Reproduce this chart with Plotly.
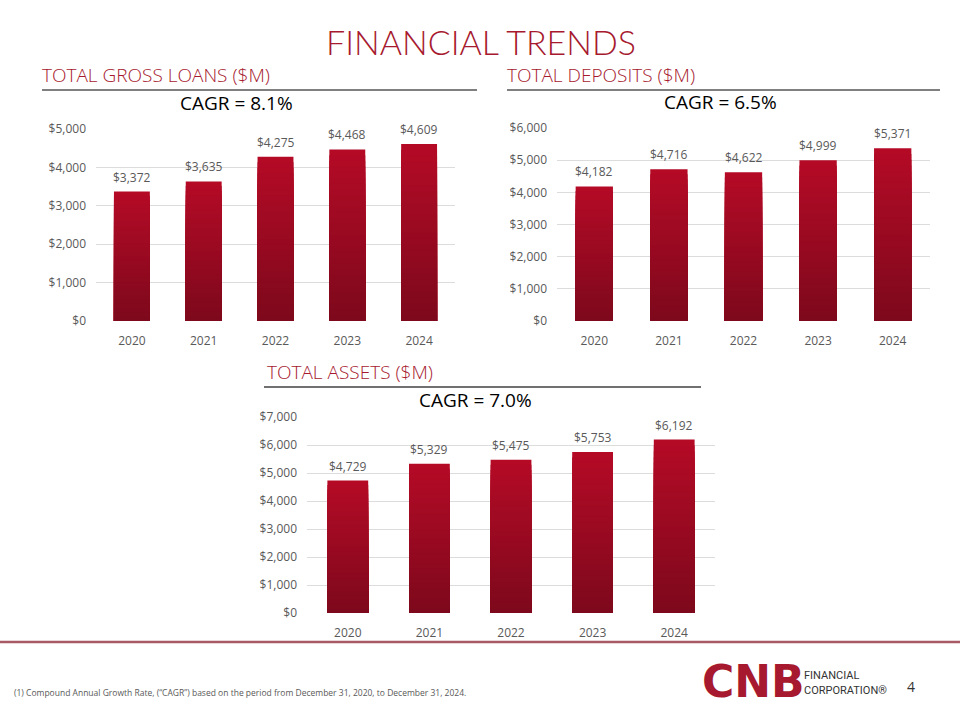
import plotly.graph_objects as go

# data
years = ["2020", "2021", "2022", "2023", "2024"]
loans = [3372, 3635, 4275, 4468, 4609]
deposits = [4182, 4716, 4622, 4999, 5371]
assets = [4729, 5329, 5475, 5753, 6192]

loans_cagr = "CAGR = 8.1%"
deposits_cagr = "CAGR = 6.5%"
assets_cagr = "CAGR = 7.0%"

W, H = 960, 720
RED = "#a6192e"
GRAY = "#595959"
FONT = "Open Sans"

TOP = (180, 10, 38)
BOTTOM = (126, 9, 28)
N_LAYERS = 30


def px(x):
    return x / W


def py(y):
    return 1 - y / H


def shade(i):
    t = i / (N_LAYERS - 1)
    r, g, b = (round(a + (c - a) * t) for a, c in zip(TOP, BOTTOM))
    return f"rgb({r},{g},{b})"


fig = go.Figure()

charts = [
    (loans, "x", "y"),
    (deposits, "x2", "y2"),
    (assets, "x3", "y3"),
]

# stacked-over layers fake the top-to-bottom gradient of the bars
for values, xa, ya in charts:
    for i in range(N_LAYERS):
        frac = 1 - i / N_LAYERS
        fig.add_trace(go.Bar(
            x=years, y=[v * frac for v in values],
            xaxis=xa, yaxis=ya,
            marker=dict(color=shade(i), line=dict(width=0)),
            hoverinfo="skip",
            showlegend=False,
        ))
    # value labels above each bar (x is the category's index)
    for k, v in enumerate(values):
        fig.add_annotation(x=k, y=v, xref=xa, yref=ya, text=f"${v:,}",
                           showarrow=False, yanchor="bottom", yshift=4,
                           font=dict(family=FONT, size=12, color=GRAY))

xcommon = dict(type="category", range=[-0.5, len(years) - 0.5],
               showgrid=False, zeroline=False, showline=False,
               ticks="", automargin=False, ticklabelstandoff=11,
               tickfont=dict(family=FONT, size=12, color=GRAY))
ycommon = dict(showgrid=True, gridcolor="#dcdcdc", gridwidth=1,
               zeroline=False, showline=False, ticks="", dtick=1000,
               automargin=False,
               tickprefix="$", tickformat=",", ticklabelstandoff=9,
               tickfont=dict(family=FONT, size=12, color=GRAY))

fig.update_layout(
    width=W, height=H, autosize=False,
    margin=dict(l=0, r=0, t=0, b=0, pad=0),
    paper_bgcolor="white", plot_bgcolor="white",
    barmode="overlay", bargap=0.5,
    font=dict(family=FONT),
    xaxis=dict(domain=[px(96), px(455)], anchor="y", **xcommon),
    yaxis=dict(domain=[py(321), py(129)], anchor="x", range=[0, 5000], **ycommon),
    xaxis2=dict(domain=[px(557), px(930)], anchor="y2", **xcommon),
    yaxis2=dict(domain=[py(321), py(128)], anchor="x2", range=[0, 6000], **ycommon),
    xaxis3=dict(domain=[px(307), px(715)], anchor="y3", **xcommon),
    yaxis3=dict(domain=[py(613), py(417)], anchor="x3", range=[0, 7000], **ycommon),
)

# header lines and the bottom rule
lines = [
    (42, 477, 90, "#7f7f7f", 2),
    (507, 940, 90, "#7f7f7f", 2),
    (264, 701, 387, "#404040", 1.5),
    (0, 960, 642, "#a65a66", 2.5),
]
for x0, x1, y, c, w in lines:
    fig.add_shape(type="line", xref="paper", yref="paper",
                  x0=px(x0), x1=px(x1), y0=py(y), y1=py(y),
                  line=dict(color=c, width=w))


def note(text, x, y, size, color, xanchor="center", family=FONT, weight=None):
    fig.add_annotation(text=text, x=px(x), y=py(y), xref="paper", yref="paper",
                       xanchor=xanchor, yanchor="middle", showarrow=False,
                       font=dict(family=family, size=size, color=color, weight=weight))


note("FINANCIAL TRENDS", 481, 41, 34, RED, family="Lato", weight=300)
note("TOTAL GROSS LOANS ($M)", 40, 75, 19, RED, xanchor="left", weight=300)
note("TOTAL DEPOSITS ($M)", 505, 75, 19, RED, xanchor="left", weight=300)
note("TOTAL ASSETS ($M)", 265, 372, 19, RED, xanchor="left", weight=300)
note(loans_cagr, 236, 103, 19, "black")
note(deposits_cagr, 720, 102, 19, "black")
note(assets_cagr, 475, 400, 19, "black")

note("(1) Compound Annual Growth Rate, (“CAGR”) based on the period from December 31, 2020, to December 31, 2024.",
     12, 692, 8.5, GRAY, xanchor="left")

# logo and page number
note("CNB", 700, 681, 44, RED, xanchor="left", family="DejaVu Sans", weight="bold")
note("FINANCIAL", 802, 675, 11, "#333333", xanchor="left", family="Roboto")
note("CORPORATION®", 802, 690, 11, "#333333", xanchor="left", family="Roboto")
note("4", 911, 686, 14, "#333333")

fig.write_html("out.html", config={"displayModeBar": False},
               post_script="document.body.style.margin='0';")
